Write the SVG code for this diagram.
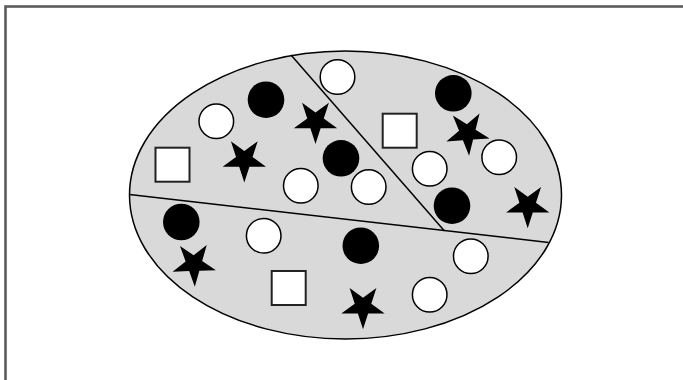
<svg xmlns="http://www.w3.org/2000/svg" xmlns:xlink="http://www.w3.org/1999/xlink" width="683" height="380" viewBox="0 0 683 380">
<style>
.wc{fill:#fff;stroke:#000;stroke-width:1.5}
.bc{fill:#000}
.sq{fill:#fff;stroke:#222;stroke-width:2}
.st{fill:#000}
.div{stroke:#000;stroke-width:1.5;fill:none}
</style>
<defs>
<path id="star" d="M0,22.8 L-5.11,7.04 L-21.68,7.05 L-8.27,-2.69 L-13.4,-18.45 L0,-8.7 L13.4,-18.45 L8.27,-2.69 L21.68,7.05 L5.11,7.04 Z"/>
</defs>
<rect width="683" height="380" fill="#fff"/>
<rect id="frame" x="5.5" y="6.5" width="720" height="420" fill="none" stroke="#5c5c5c" stroke-width="2.6"/>
<g id="set">
<ellipse cx="345.5" cy="195" rx="216" ry="144" fill="#d9d9d9" stroke="#000" stroke-width="1.5"/>
</g>
<g id="connectors">
<line class="div" x1="129.5" y1="194.5" x2="548.5" y2="242.5"/>
<line class="div" x1="291" y1="55" x2="444.5" y2="231"/>
</g>
<g id="white-circles">
<circle id="w1" class="wc" cx="216.3" cy="121.3" r="17.3"/>
<circle id="w2" class="wc" cx="337.5" cy="77" r="17.3"/>
<circle id="w3" class="wc" cx="300.8" cy="185.8" r="17.3"/>
<circle id="w4" class="wc" cx="368.7" cy="187" r="17.3"/>
<circle id="w5" class="wc" cx="429.7" cy="168.7" r="17.3"/>
<circle id="w6" class="wc" cx="499.2" cy="157.2" r="17.3"/>
<circle id="w7" class="wc" cx="470.8" cy="256.2" r="17.3"/>
<circle id="w8" class="wc" cx="263.7" cy="235.8" r="17.3"/>
<circle id="w9" class="wc" cx="429.7" cy="294.7" r="17.3"/>
</g>
<g id="black-circles">
<circle id="b1" class="bc" cx="266" cy="99.7" r="18.3"/>
<circle id="b2" class="bc" cx="341" cy="158.3" r="18.3"/>
<circle id="b3" class="bc" cx="453.3" cy="93.3" r="18.3"/>
<circle id="b4" class="bc" cx="452" cy="205.7" r="18.3"/>
<circle id="b5" class="bc" cx="181.3" cy="222" r="18.3"/>
<circle id="b6" class="bc" cx="360.8" cy="245.7" r="18.3"/>
</g>
<g id="squares">
<rect id="q1" class="sq" x="155.5" y="147.7" width="34" height="34"/>
<rect id="q2" class="sq" x="382.7" y="113.7" width="34" height="34"/>
<rect id="q3" class="sq" x="271.7" y="271" width="34" height="34"/>
</g>
<g id="stars">
<use id="s1" class="st" xlink:href="#star" href="#star" transform="translate(244.3,159.7)"/>
<use id="s2" class="st" xlink:href="#star" href="#star" transform="translate(315.5,121.2)"/>
<use id="s3" class="st" xlink:href="#star" href="#star" transform="translate(467.5,132.9) rotate(-4)"/>
<use id="s4" class="st" xlink:href="#star" href="#star" transform="translate(527.7,205.5)"/>
<use id="s5" class="st" xlink:href="#star" href="#star" transform="translate(194,263.9) rotate(-2)"/>
<use id="s6" class="st" xlink:href="#star" href="#star" transform="translate(363,306.5)"/>
</g>
</svg>
